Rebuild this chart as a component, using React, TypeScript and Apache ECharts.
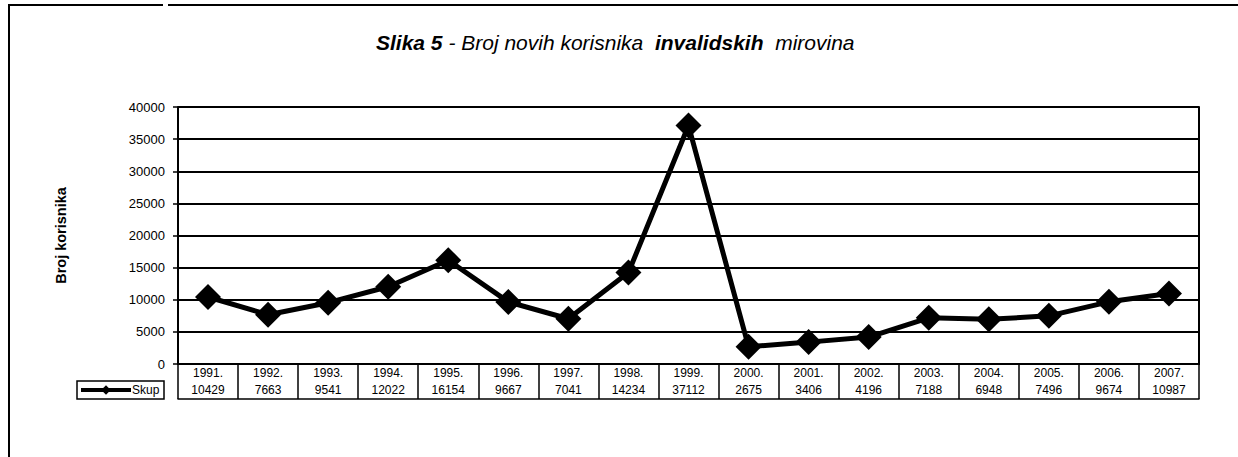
import React, { useEffect, useRef } from "react";
import * as echarts from "echarts";

const years = ["1991.", "1992.", "1993.", "1994.", "1995.", "1996.", "1997.", "1998.", "1999.", "2000.", "2001.", "2002.", "2003.", "2004.", "2005.", "2006.", "2007."];
const values = [10429, 7663, 9541, 12022, 16154, 9667, 7041, 14234, 37112, 2675, 3406, 4196, 7188, 6948, 7496, 9674, 10987];
const seriesName = "Skup";
const titleParts = ["Slika 5", " - Broj novih korisnika  ", "invalidskih", "  mirovina"];
const yAxisName = "Broj korisnika";

const FONT = "'Liberation Sans', Arial, sans-serif";

export default function App() {
  const ref = useRef<HTMLDivElement>(null);
  useEffect(() => {
    if (!ref.current) return;
    const chart = echarts.init(ref.current, null, { renderer: "svg" });
    const option: any = {
      animation: false,
      backgroundColor: "#ffffff",
      textStyle: { fontFamily: FONT, color: "#000" },
      title: {
        left: 376,
        top: 32,
        padding: 0,
        text: `{b|${titleParts[0]}}{i|${titleParts[1]}}{b|${titleParts[2]}}{i|${titleParts[3]}}`,
        textStyle: {
          rich: {
            b: { fontFamily: FONT, fontSize: 21, fontWeight: "bold", fontStyle: "italic", color: "#000" },
            i: { fontFamily: FONT, fontSize: 21, fontWeight: "normal", fontStyle: "italic", color: "#000" },
          },
        },
      },
      legend: {
        left: 79,
        top: 384,
        itemWidth: 50,
        itemHeight: 12,
        itemGap: 0,
        padding: 0,
        lineStyle: { width: 4, color: "#000" },
        textStyle: { fontFamily: FONT, fontSize: 12, color: "#000", padding: [0, 0, 0, -4] },
        data: [seriesName],
      },
      grid: { left: 178, right: 39, top: 107, bottom: 93, containLabel: false },
      xAxis: [
        {
          type: "category",
          data: years,
          position: "bottom",
          boundaryGap: true,
          axisLine: { show: true, lineStyle: { color: "#000", width: 2 } },
          axisTick: { show: true, interval: 0, length: 35, lineStyle: { color: "#000", width: 1.5 } },
          axisLabel: { interval: 0, margin: 3, fontSize: 12, fontFamily: FONT, color: "#000" },
          splitLine: { show: false },
        },
        {
          type: "category",
          data: values.map((v) => String(v)),
          position: "bottom",
          offset: 17,
          boundaryGap: true,
          axisLine: { show: true, lineStyle: { color: "#000", width: 1.5 } },
          axisTick: { show: false },
          axisLabel: { interval: 0, margin: 3, fontSize: 12, fontFamily: FONT, color: "#000" },
          splitLine: { show: false },
        },
        {
          type: "category",
          data: years,
          position: "bottom",
          offset: 35,
          boundaryGap: true,
          axisLine: { show: true, lineStyle: { color: "#000", width: 1.5 } },
          axisTick: { show: false },
          axisLabel: { show: false },
          splitLine: { show: false },
        },
      ],
      yAxis: [
        {
          type: "value",
          min: 0,
          max: 40000,
          interval: 5000,
          name: yAxisName,
          nameLocation: "middle",
          nameRotate: 90,
          nameGap: 110,
          nameTextStyle: { fontFamily: FONT, fontSize: 14.5, fontWeight: "bold", color: "#000" },
          axisLine: { show: true, lineStyle: { color: "#000", width: 2 } },
          axisTick: { show: true, length: 5, lineStyle: { color: "#000", width: 1.5 } },
          axisLabel: { margin: 13, fontSize: 13, fontFamily: FONT, color: "#000", formatter: (v: number) => String(v) },
          splitLine: { show: true, lineStyle: { color: "#000", width: 1.8 } },
        },
        {
          type: "value",
          min: 0,
          max: 40000,
          interval: 5000,
          position: "right",
          axisLine: { show: true, lineStyle: { color: "#000", width: 2 } },
          axisTick: { show: false },
          axisLabel: { show: false },
          splitLine: { show: false },
        },
      ],
      series: [
        {
          name: seriesName,
          type: "line",
          data: values,
          xAxisIndex: 0,
          yAxisIndex: 0,
          symbol: "diamond",
          symbolSize: 26,
          lineStyle: { color: "#000", width: 5 },
          itemStyle: { color: "#000" },
        },
      ],
      graphic: [
        { type: "line", shape: { x1: 9, y1: 5, x2: 9, y2: 457 }, style: { stroke: "#000", lineWidth: 2 } },
        { type: "line", shape: { x1: 8, y1: 5, x2: 163, y2: 5 }, style: { stroke: "#000", lineWidth: 2 } },
        { type: "line", shape: { x1: 168, y1: 5, x2: 1238, y2: 5 }, style: { stroke: "#000", lineWidth: 2 } },
        { type: "rect", shape: { x: 77, y: 381, width: 87, height: 18 }, style: { fill: "none", stroke: "#000", lineWidth: 1.5 } },
      ],
    };
    chart.setOption(option);
    return () => chart.dispose();
  }, []);
  return <div ref={ref} style={{ position: "fixed", left: 0, top: 0, width: 1238, height: 457 }} />;
}
